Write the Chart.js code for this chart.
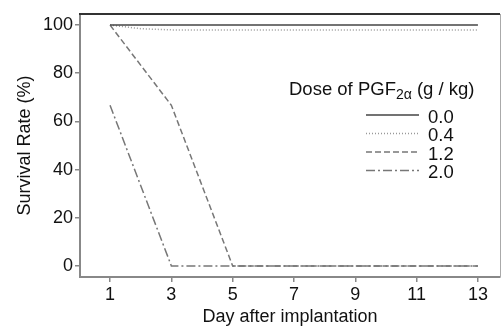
<!DOCTYPE html>
<html>
<head>
<meta charset="utf-8">
<script src="https://cdn.jsdelivr.net/npm/chart.js@4/dist/chart.umd.min.js"></script>
<style>
  body { margin: 0; background: #fff; }
  canvas { display: block; }
</style>
</head>
<body>
<canvas id="survivalChart" width="502" height="326"></canvas>
<script>
// ---------------------------
// Survival data per dose
// ---------------------------
const dayTicks = [1, 3, 5, 7, 9, 11, 13];
const rateTicks = [0, 20, 40, 60, 80, 100];
const doseLabels = ['0.0', '0.4', '1.2', '2.0'];

const dose00Days = [1, 13];
const dose00Rates = [100, 100];
const dose04Days = [1, 2, 3, 13];
const dose04Rates = [100, 98.5, 98, 98];
const dose12Days = [1, 3, 5, 13];
const dose12Rates = [100, 66.7, 0, 0];
const dose20Days = [1, 3, 13];
const dose20Rates = [66.7, 0, 0];

const FONT = 'Liberation Sans, Arial, sans-serif';
const TEXT = '#111';

function toPoints(days, rates) {
    let pts = [];
    for (let i = 0; i < days.length; i++) {
        pts.push({ x: days[i], y: rates[i] });
    }
    return pts;
}

function series(label, days, rates, color, dash) {
    return {
        label: label,
        data: toPoints(days, rates),
        borderColor: color,
        borderWidth: 1.5,
        borderDash: dash,
        pointRadius: 0,
        tension: 0,
        fill: false
    };
}

// legend + box edges drawn straight onto the canvas
const legendBox = {
    id: 'legendBox',
    afterDraw(chart) {
        const ctx = chart.ctx;
        const area = chart.chartArea;
        ctx.save();

        // top and right frame lines
        ctx.setLineDash([]);
        ctx.strokeStyle = '#333';
        ctx.lineWidth = 2;
        ctx.beginPath();
        ctx.moveTo(area.left - 1, area.top);
        ctx.lineTo(area.right, area.top);
        ctx.stroke();
        ctx.strokeStyle = '#aaa';
        ctx.lineWidth = 1;
        ctx.beginPath();
        ctx.moveTo(area.right + 0.5, area.top);
        ctx.lineTo(area.right + 0.5, area.bottom);
        ctx.stroke();

        // legend title with subscript
        ctx.fillStyle = TEXT;
        ctx.textBaseline = 'alphabetic';
        ctx.textAlign = 'left';
        let x = 289, base = 95;
        ctx.font = '18.5px ' + FONT;
        ctx.fillText('Dose of PGF', x, base);
        x += ctx.measureText('Dose of PGF').width;
        ctx.font = '14px ' + FONT;
        ctx.fillText('2\u03b1', x, base + 4);
        x += ctx.measureText('2\u03b1').width;
        ctx.font = '18.5px ' + FONT;
        ctx.fillText(' (g / kg)', x, base);

        // legend rows
        chart.data.datasets.forEach(function (ds, i) {
            let rowY = 116 + i * 18.5;
            ctx.strokeStyle = ds.borderColor;
            ctx.lineWidth = ds.borderWidth;
            ctx.setLineDash(ds.borderDash || []);
            ctx.beginPath();
            ctx.moveTo(366, rowY - 1);
            ctx.lineTo(419, rowY - 1);
            ctx.stroke();
            ctx.setLineDash([]);
            ctx.font = '18.5px ' + FONT;
            ctx.fillText(ds.label, 428, rowY + 6.5);
        });
        ctx.restore();
    }
};

let ctx = document.getElementById('survivalChart').getContext('2d');
let myChart = new Chart(ctx, {
    type: 'line',
    data: {
        datasets: [
            series(doseLabels[0], dose00Days, dose00Rates, '#444', []),
            series(doseLabels[1], dose04Days, dose04Rates, '#999', [1, 2]),
            series(doseLabels[2], dose12Days, dose12Rates, '#777', [6, 3]),
            series(doseLabels[3], dose20Days, dose20Rates, '#777', [9, 3, 2, 3])
        ]
    },
    options: {
        responsive: false,
        animation: false,
        layout: { padding: { top: 14, right: 2, left: 0, bottom: 0 } },
        plugins: {
            legend: { display: false },
            tooltip: { enabled: false }
        },
        scales: {
            x: {
                type: 'linear',
                min: 0.02,
                max: 13.72,
                afterBuildTicks: function (scale) {
                    scale.ticks = dayTicks.map(v => ({ value: v }));
                },
                afterFit: function (scale) { scale.height = 49; },
                grid: { drawOnChartArea: false, drawTicks: true, tickLength: 5, color: '#888', lineWidth: 1.5 },
                border: { display: true, color: '#888', width: 2 },
                ticks: { color: TEXT, padding: 2, font: { family: FONT, size: 18 } },
                title: {
                    display: true,
                    text: 'Day after implantation',
                    color: TEXT,
                    padding: { top: 0, bottom: -2 },
                    font: { family: FONT, size: 18 }
                }
            },
            y: {
                min: -4.6,
                max: 104.6,
                afterBuildTicks: function (scale) {
                    scale.ticks = rateTicks.map(v => ({ value: v }));
                },
                afterFit: function (scale) { scale.width = 80; },
                grid: { drawOnChartArea: false, drawTicks: true, tickLength: 5, color: '#888', lineWidth: 1.5 },
                border: { display: true, color: '#888', width: 2 },
                ticks: { color: TEXT, padding: 2, font: { family: FONT, size: 18 } },
                title: {
                    display: true,
                    text: 'Survival Rate (%)',
                    color: TEXT,
                    padding: { top: 14, bottom: 0 },
                    font: { family: FONT, size: 18 }
                }
            }
        }
    },
    plugins: [legendBox]
});
</script>
</body>
</html>
